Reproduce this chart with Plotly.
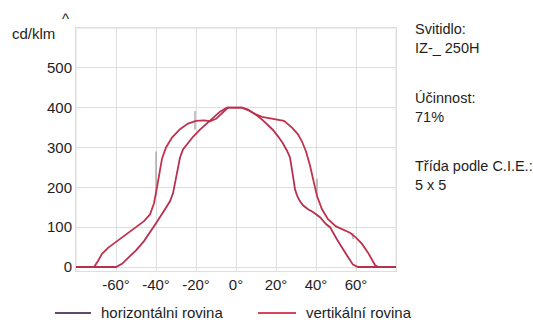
import plotly.graph_objects as go

# Light distribution curve (cd/klm) versus angle, two measurement planes
outer_angles = [-80, -71, -69, -67, -64, -60, -55, -50, -46, -43, -41, -39.5, -38, -37, -35,
                -32, -28, -24, -20, -16, -13, -10, -7, -4, 0, 3, 6, 10, 13, 17, 20, 24, 28,
                31, 33, 35, 37, 39, 40.5, 43, 46, 50, 54, 57, 60, 63, 66, 68, 69.5, 71, 80]
outer_values = [0, 0, 15, 33, 48, 63, 80, 100, 115, 132, 160, 200, 240, 272, 300,
                325, 346, 360, 367, 368, 366, 372, 386, 400, 400, 400, 394, 383, 377, 373, 371, 367, 350,
                333, 315, 290, 255, 210, 178, 145, 120, 102, 94, 86, 74, 58, 36, 16, 5, 0, 0]

inner_angles = [-80, -60, -57, -54, -50, -46, -43, -40, -37, -35, -33, -31.5, -30.5, -29.5, -28,
                -26.5, -24, -21.5, -18, -14.5, -11, -8, -4.5, 0, 3, 6, 10, 13.5, 16, 18.5, 21,
                23.5, 25.5, 27, 28.5, 29.5, 30.5, 32, 33.5, 36, 38.5, 42, 45, 47, 50.5, 53, 55.5,
                58.5, 61, 80]
inner_values = [0, 0, 8, 22, 42, 65, 86, 110, 133, 150, 165, 185, 210, 238, 275,
                295, 312, 327, 345, 360, 375, 390, 400, 400, 400, 395, 382, 368, 356, 344, 328,
                310, 292, 275, 228, 195, 180, 165, 155, 145, 138, 125, 108, 100, 69, 48, 29,
                6, 0, 0]

# short vertical construction marks left on the grid: (angle, low, high)
grid_marks = [(-40, 180, 290), (-20.5, 345, 392), (40.5, 180, 222), (58.5, 70, 85)]

x_ticks = [-60, -40, -20, 0, 20, 40, 60]
y_ticks = [0, 100, 200, 300, 400, 500]

legend_names = ["horizontálni rovina", "vertikální rovina"]
legend_colors = ["#5e4a6c", "#d8445a"]

text_font = dict(family="Liberation Sans, Arial, sans-serif", size=15, color="#1e1e1e")
side_font = dict(family="Liberation Sans, Arial, sans-serif", size=14.5, color="#1e1e1e")

fig = go.Figure()

for ang, lo, hi in grid_marks:
    fig.add_trace(go.Scatter(x=[ang, ang], y=[lo, hi], mode="lines",
                             line=dict(color="#8a8a8a", width=1), showlegend=False,
                             hoverinfo="skip"))

fig.add_trace(go.Scatter(x=outer_angles, y=outer_values, mode="lines",
                         line=dict(color="#c2324c", width=1.8), showlegend=False))
fig.add_trace(go.Scatter(x=inner_angles, y=inner_values, mode="lines",
                         line=dict(color="#b8304f", width=1.8), showlegend=False))

grid_col = "#dedede"
fig.update_xaxes(range=[-80, 80], tickvals=x_ticks,
                 ticktext=[f"{v}°" for v in x_ticks],
                 showgrid=True, gridcolor=grid_col, gridwidth=1,
                 zeroline=False, showline=True, linecolor=grid_col, mirror=True,
                 tickfont=text_font, ticks="")
fig.update_yaxes(range=[-10, 600], tickvals=y_ticks,
                 showgrid=True, gridcolor=grid_col, gridwidth=1,
                 zeroline=False, showline=True, linecolor=grid_col, mirror=True,
                 tickfont=text_font, ticks="")

# gridlines at the unlabelled positions
for gx in [-80, 80]:
    fig.add_shape(type="line", xref="x", yref="y", x0=gx, x1=gx, y0=-10, y1=600,
                  line=dict(color=grid_col, width=1), layer="below")
fig.add_shape(type="line", xref="x", yref="y", x0=-80, x1=80, y0=600, y1=600,
              line=dict(color=grid_col, width=1), layer="below")

side_texts = [("Svitidlo:", 0.996), ("IZ-_ 250H", 0.918),
              ("Účinnost:", 0.712), ("71%", 0.634),
              ("Třída podle C.I.E.:", 0.432), ("5 x 5", 0.354)]
for txt, yy in side_texts:
    fig.add_annotation(text=txt, xref="paper", yref="paper", x=1.053, y=yy,
                       xanchor="left", yanchor="middle", showarrow=False, font=side_font)

fig.add_annotation(text="cd/klm", xref="paper", yref="paper", x=-0.133, y=0.978,
                   xanchor="center", yanchor="middle", showarrow=False, font=text_font)
fig.add_annotation(text="^", xref="paper", yref="paper", x=-0.033, y=1.04,
                   xanchor="center", yanchor="middle", showarrow=False, font=text_font)

# legend drawn below the plot area: sample line + label for each plane
legend_line_x = [(55, 91), (258, 296)]
legend_text_x = [99, 304]
legend_py = 313
for name, col, (lx0, lx1), tx in zip(legend_names, legend_colors, legend_line_x, legend_text_x):
    fig.add_shape(type="line", xref="paper", yref="paper",
                  x0=(lx0 - 76) / 320, x1=(lx1 - 76) / 320,
                  y0=(271 - legend_py) / 243, y1=(271 - legend_py) / 243,
                  line=dict(color=col, width=2))
    fig.add_annotation(text=name, xref="paper", yref="paper",
                       x=(tx - 76) / 320, y=(271 - legend_py) / 243,
                       xanchor="left", yanchor="middle", showarrow=False, font=text_font)

fig.update_layout(
    width=533, height=323,
    margin=dict(l=76, r=137, t=28, b=52),
    paper_bgcolor="white", plot_bgcolor="white",
    font=text_font,
    showlegend=False,
)

fig.write_html("out.html")
